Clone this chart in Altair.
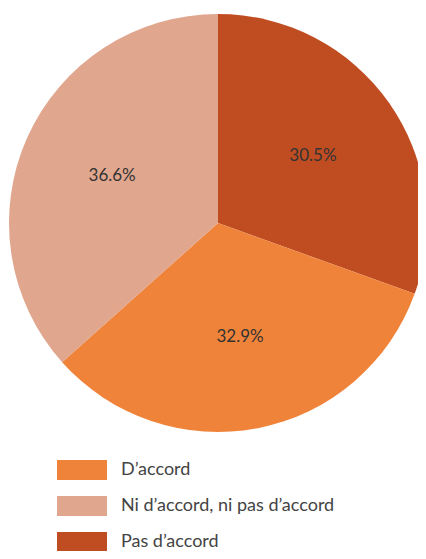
import altair as alt
import pandas as pd

categories = ["Pas d’accord", "D’accord", "Ni d’accord, ni pas d’accord"]
values = [30.5, 32.9, 36.6]
order = [1, 2, 3]
legend_order = ["D’accord", "Ni d’accord, ni pas d’accord", "Pas d’accord"]
colors = ["#F0833A", "#E0A68E", "#C04D22"]

df = pd.DataFrame({"cat": categories, "val": values, "ord": order})
df["label"] = df["val"].map(lambda v: f"{v:.1f}%")

FONT = "Lato"
cx, cy = 210, 215

base = alt.Chart(df).encode(
    theta=alt.Theta("val:Q", stack=True),
    order=alt.Order("ord:Q"),
)

arcs = base.mark_arc(outerRadius=209, stroke=None).encode(
    x=alt.value(cx),
    y=alt.value(cy),
    color=alt.Color(
        "cat:N",
        scale=alt.Scale(domain=legend_order, range=colors),
        sort=legend_order,
        legend=alt.Legend(
            title=None,
            orient="none",
            legendX=49,
            legendY=437,
            symbolType="M-1,-0.4H1V0.4H-1Z",
            symbolSize=2500,
            symbolStrokeWidth=0,
            symbolOpacity=1,
            labelFont=FONT,
            labelFontSize=18,
            labelColor="#444444",
            labelOffset=14,
            labelLimit=400,
            rowPadding=1,
        ),
    ),
)

labels = base.mark_text(radius=116, font=FONT, fontSize=17, color="#333333").encode(
    x=alt.value(cx),
    y=alt.value(cy),
    text="label:N",
)

chart = (
    alt.layer(arcs, labels)
    .properties(width=410, height=543, autosize=alt.AutoSizeParams(type="none"), padding=0)
    .configure_view(stroke=None)
)

chart.save("out.html", embed_options={"renderer": "svg", "actions": False})
